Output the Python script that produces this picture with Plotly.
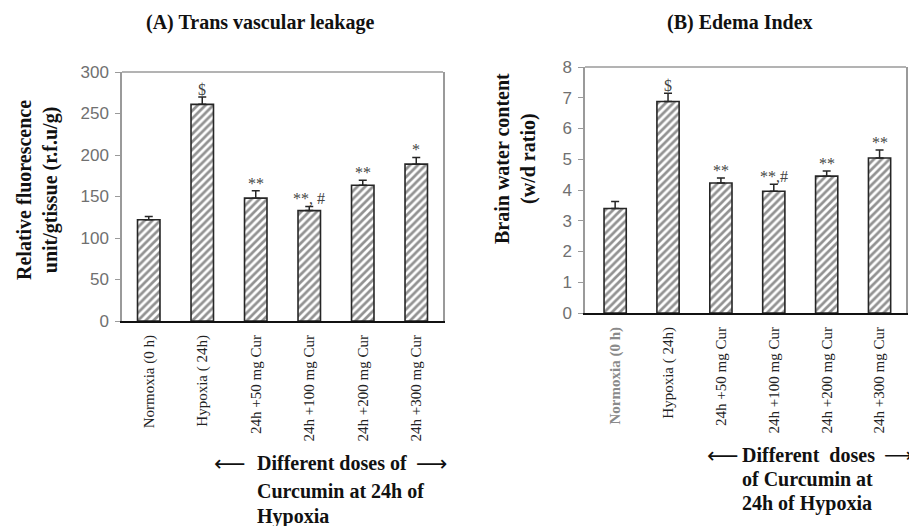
import plotly.graph_objects as go

W, H = 917, 526
OFF = 8  # page body margin offset

categories = ["Normoxia (0 h)", "Hypoxia ( 24h)", "24h +50 mg Cur",
              "24h +100 mg Cur", "24h +200 mg Cur", "24h +300 mg Cur"]
ticktext_B = ['<b><span style="color:#8a8a8a">Normoxia (0 h)</span></b>', "Hypoxia ( 24h)",
              "24h +50 mg Cur", "24h +100 mg Cur", "24h +200 mg Cur", "24h +300 mg Cur"]

values_A = [122, 261, 148, 133, 163.5, 189]
errors_A = [4, 9, 9, 5, 6, 8]
sig_A = ["", "$", "**", "**, #", "**", "*"]

values_B = [3.40, 6.88, 4.23, 3.96, 4.45, 5.04]
errors_B = [0.23, 0.27, 0.16, 0.23, 0.17, 0.26]
sig_B = ["", "$", "**", "**,#", "**", "**"]

notes_A = ["Different doses of", "Curcumin at 24h of", "Hypoxia"]
notes_B = ["Different  doses", "of Curcumin at", "24h of Hypoxia"]

SERIF = "Liberation Serif"
SANS = "Liberation Sans"
DARK = "#262626"
GRAY = "#9a9a9a"

def px_x(p):
    return (p - OFF) / W

def px_y(p):
    return 1 - (p - OFF) / H

fig = go.Figure()

bar_style = dict(
    marker=dict(color="white", line=dict(color=DARK, width=1.6),
                pattern=dict(shape="/", fgcolor=DARK, bgcolor="white", size=5.5, solidity=0.5)),
    showlegend=False,
)

fig.add_trace(go.Bar(x=categories, y=values_A, xaxis="x", yaxis="y",
                     error_y=dict(type="data", array=errors_A, arrayminus=[0]*6, symmetric=False,
                                  color=DARK, thickness=1.5, width=4),
                     **bar_style))
fig.add_trace(go.Bar(x=categories, y=values_B, xaxis="x2", yaxis="y2",
                     error_y=dict(type="data", array=errors_B, arrayminus=[0]*6, symmetric=False,
                                  color=DARK, thickness=1.5, width=4),
                     **bar_style))

xA = [px_x(122), px_x(443)]
yA = [px_y(321), px_y(72)]
xB = [px_x(585), px_x(906)]
yB = [px_y(313), px_y(67)]

common_x = dict(showline=True, linecolor="#111111", linewidth=2, ticks="", showgrid=False,
                tickangle=-90, tickfont=dict(family=SERIF, size=15, color="#222222"),
                ticklabelstandoff=6, zeroline=False, automargin=False)
common_y = dict(showline=True, linecolor=GRAY, linewidth=1.5, mirror=True, ticks="outside",
                ticklen=5, tickcolor=GRAY, showgrid=False, zeroline=False, automargin=False,
                tickfont=dict(family=SANS, size=17, color="#707070"), ticklabelstandoff=3)

fig.update_layout(
    width=W, height=H, autosize=False, margin=dict(l=0, r=0, t=0, b=0, pad=0),
    plot_bgcolor="white", paper_bgcolor="white", bargap=0.58,
    xaxis=dict(domain=xA, anchor="y", range=[-0.5, 5.5], **common_x),
    yaxis=dict(domain=yA, anchor="x", range=[0, 300], tickvals=[0, 50, 100, 150, 200, 250, 300], **common_y),
    xaxis2=dict(domain=xB, anchor="y2", range=[-0.57, 5.5], tickvals=categories, ticktext=ticktext_B, **common_x),
    yaxis2=dict(domain=yB, anchor="x2", range=[0, 8], tickvals=list(range(0, 9)), **common_y),
)

# top borders (gray)
for xd, yd in [(xA, yA), (xB, yB)]:
    fig.add_shape(type="line", xref="paper", yref="paper", x0=xd[0], x1=xd[1], y0=yd[1], y1=yd[1],
                  line=dict(color=GRAY, width=1.5))

ann = []

def txt(x, y, text, size, family=SERIF, xanchor="center", yanchor="middle", angle=0, color="#111111"):
    ann.append(dict(x=px_x(x), y=px_y(y), xref="paper", yref="paper", showarrow=False,
                    xanchor=xanchor, yanchor=yanchor, textangle=angle, text=text,
                    font=dict(family=family, size=size, color=color)))

for ax, vals, errs, sigs in [("", values_A, errors_A, sig_A), ("2", values_B, errors_B, sig_B)]:
    for cat, v, e, s in zip(categories, vals, errs, sigs):
        if s:
            ann.append(dict(x=cat, y=v + e, xref="x" + ax, yref="y" + ax, text=s, showarrow=False,
                            xanchor="center", yanchor="bottom", yshift=-3,
                            font=dict(family=SERIF, size=16, color="#444444")))

txt(260, 23, "<b>(A) Trans vascular leakage</b>", 20)
txt(740, 23, "<b>(B) Edema Index</b>", 20)

txt(38, 190, "<b>Relative fluorescence<br>unit/gtissue (r.f.u/g)</b>", 20, angle=-90)
txt(516, 159, "<b>Brain water content<br>(w/d ratio)</b>", 20, angle=-90)

for line, y in zip(notes_A, [463, 491, 516]):
    txt(255, y, "<b>" + line + "</b>", 20, xanchor="left")
for line, y in zip(notes_B, [455, 479, 503]):
    txt(740, y, "<b>" + line.replace("  ", "\u00a0 ") + "</b>", 20, xanchor="left")

txt(230, 463, "⟵", 22, family="DejaVu Sans")
txt(432, 463, "⟶", 22, family="DejaVu Sans")
txt(723, 455, "⟵", 22, family="DejaVu Sans")
txt(898, 455, "⟶", 20, family="DejaVu Sans")

fig.update_layout(annotations=ann)
fig.write_html("out.html")
